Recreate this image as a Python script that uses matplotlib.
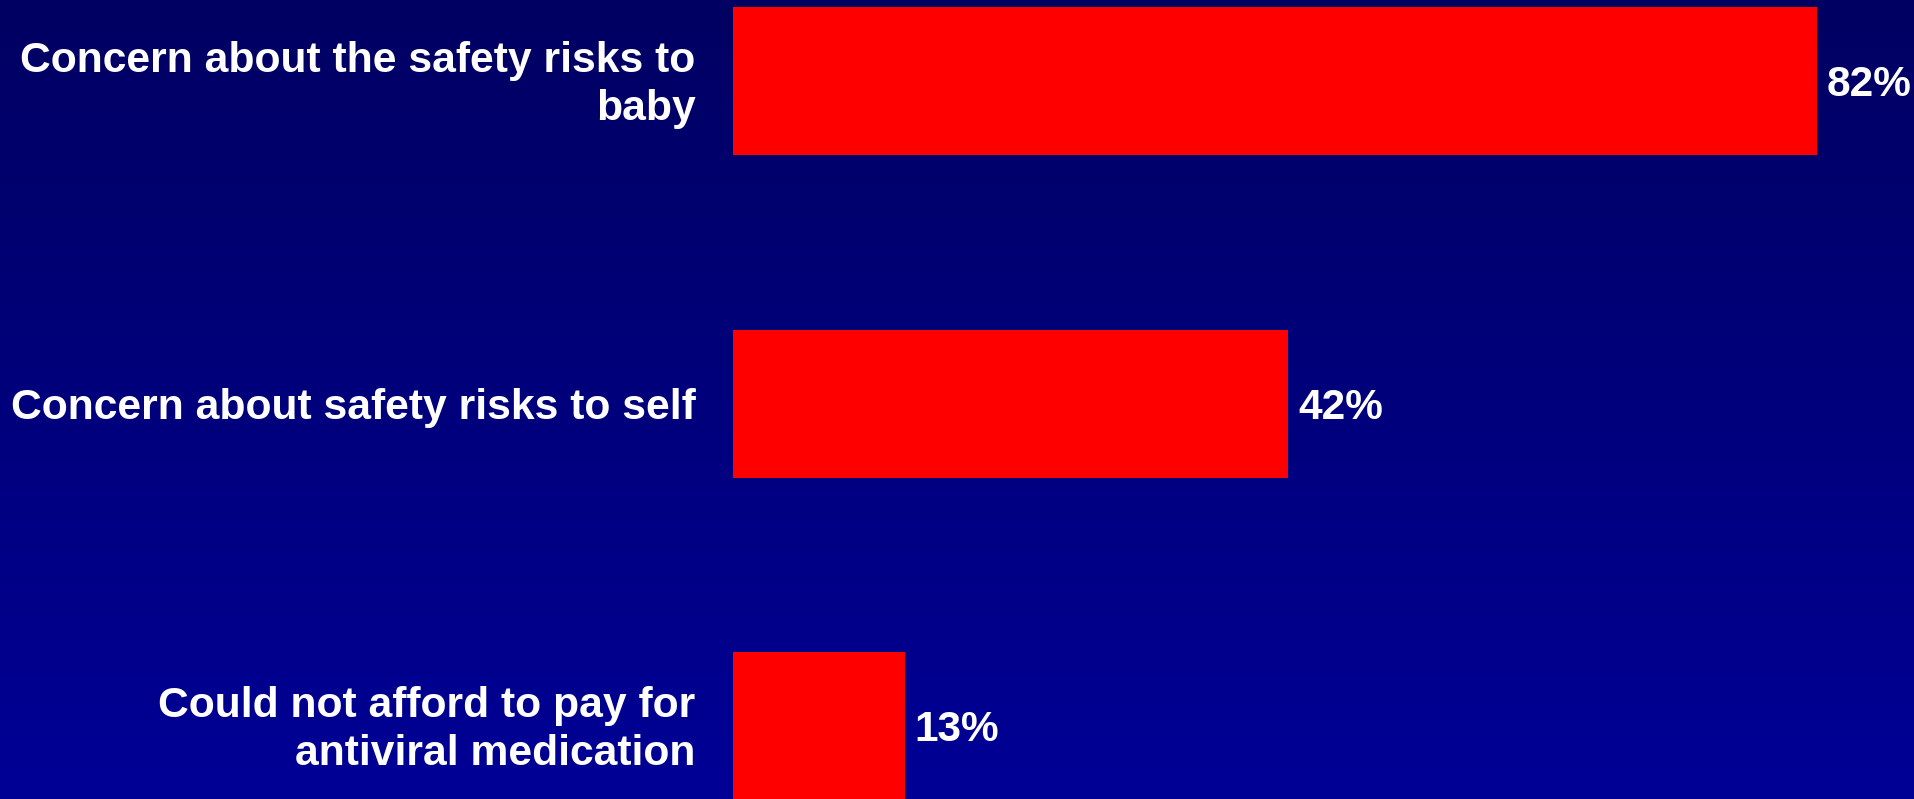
import numpy as np
import matplotlib
matplotlib.use("Agg")
import matplotlib.pyplot as plt
from matplotlib.colors import LinearSegmentedColormap

categories = ["Concern about the safety risks to\nbaby",
              "Concern about safety risks to self",
              "Could not afford to pay for\nantiviral medication"]
values = [82, 42, 13]
value_labels = ["82%", "42%", "13%"]

plt.rcParams["font.family"] = ["Liberation Sans", "DejaVu Sans"]
plt.rcParams["font.weight"] = "bold"

fig = plt.figure(figsize=(19.15, 7.99), dpi=100)

# background gradient, dark navy at the top to brighter blue at the bottom
bg = fig.add_axes([0, 0, 1, 1], zorder=0)
cmap = LinearSegmentedColormap.from_list("bg", ["#000062", "#000096"])
bg.imshow(np.linspace(0, 1, 256).reshape(-1, 1), aspect="auto", cmap=cmap,
          extent=[0, 1, 0, 1], origin="upper")
bg.axis("off")

ax = fig.add_axes([733 / 1915, 0, 1 - 733 / 1915, 1], zorder=1)
ax.patch.set_alpha(0)
y = np.arange(len(values))
ax.barh(y, values, height=0.459, color="#ff0000", edgecolor="none")
ax.set_xlim(0, 89.4)
ax.set_ylim(2.226, -0.251)

for yi, v, lab in zip(y, values, value_labels):
    ax.annotate(lab, (v, yi), xytext=(7, -3), textcoords="offset points",
                va="center", ha="left", color="white", fontsize=30.5,
                fontweight="bold")

for yi, lab in zip(y, categories):
    ax.annotate(lab, (0, yi), xytext=(-27, -3), textcoords="offset points",
                va="center", ha="right", color="white", fontsize=30.7,
                fontweight="bold", linespacing=1.25, annotation_clip=False)

ax.set_xticks([])
ax.set_yticks([])
for s in ax.spines.values():
    s.set_visible(False)

fig.savefig("out.png", dpi=100)
